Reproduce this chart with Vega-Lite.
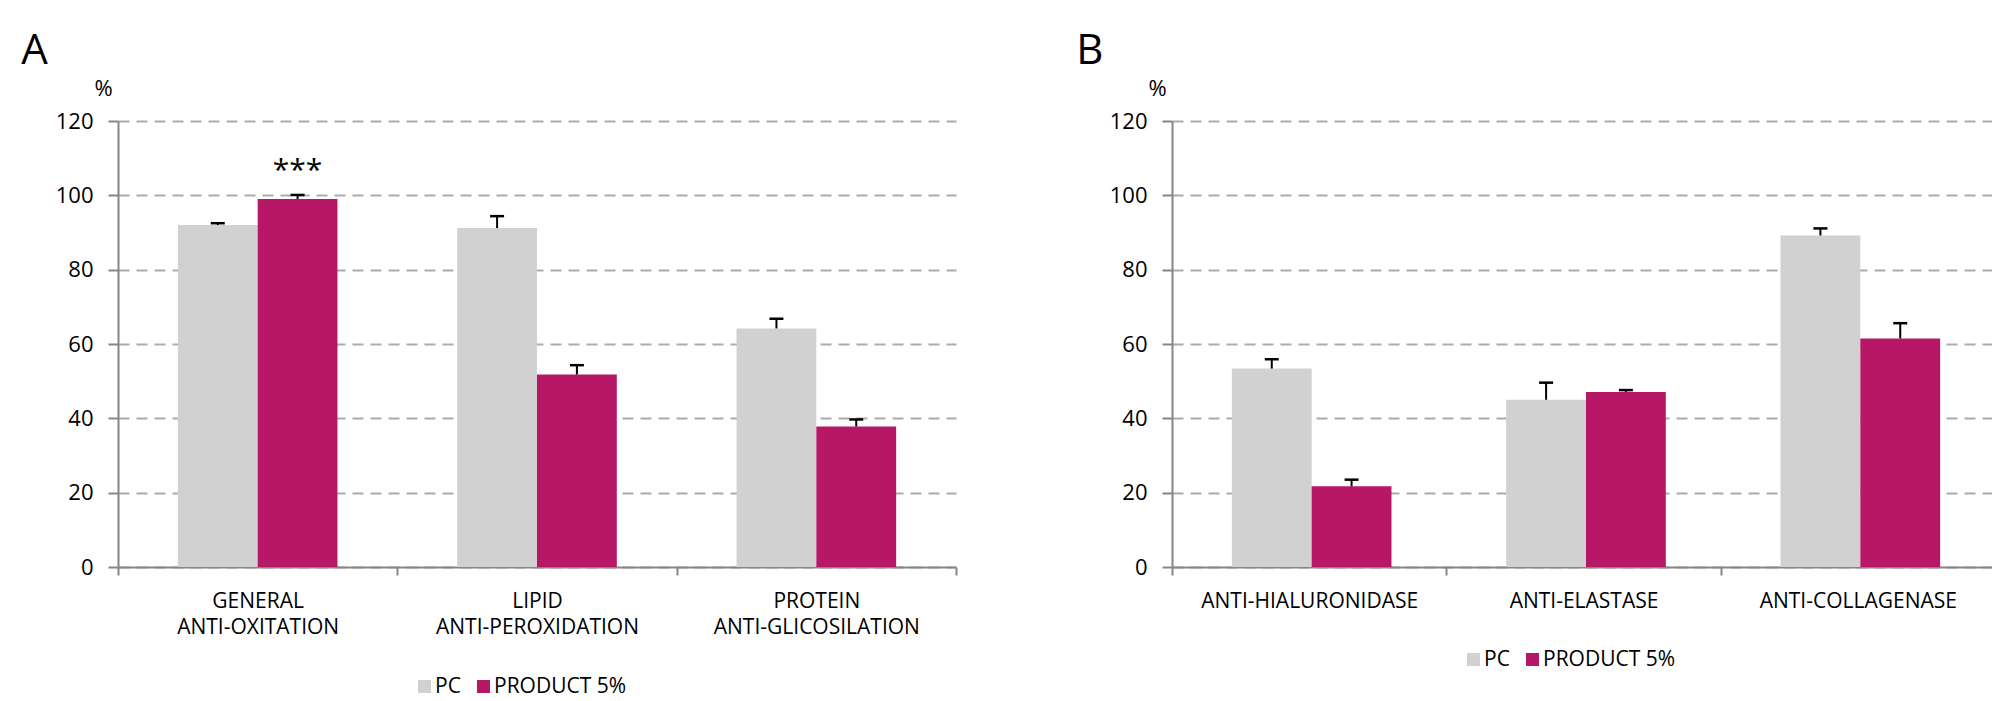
{
  "$schema": "https://vega.github.io/schema/vega-lite/v6.json",
  "background": "white",
  "padding": {"left": 21, "top": 30, "right": 0, "bottom": 0},
  "config": {
    "font": "Open Sans",
    "view": {"stroke": null},
    "concat": {"spacing": 119},
    "title": {"fontSize": 42, "fontWeight": "normal", "anchor": "start", "color": "black"},
    "legend": {
      "orient": "none", "direction": "horizontal", "title": null, "symbolType": "square",
      "symbolSize": 169, "labelFontSize": 21, "labelColor": "black", "columnPadding": 12,
      "labelOffset": 0, "symbolStrokeWidth": 0, "symbolOpacity": 1, "labelLimit": 0, "gridAlign": "none"
    }
  },
  "datasets": {
    "a": [
      {"cat": "GENERAL|ANTI-OXITATION", "grp": "PC", "value": 92.0, "upper": 92.5},
      {"cat": "GENERAL|ANTI-OXITATION", "grp": "PRODUCT 5%", "value": 99.0, "upper": 100.1, "sig": "***", "sigy": 106.5},
      {"cat": "LIPID|ANTI-PEROXIDATION", "grp": "PC", "value": 91.2, "upper": 94.4},
      {"cat": "LIPID|ANTI-PEROXIDATION", "grp": "PRODUCT 5%", "value": 51.8, "upper": 54.3},
      {"cat": "PROTEIN|ANTI-GLICOSILATION", "grp": "PC", "value": 64.2, "upper": 66.8},
      {"cat": "PROTEIN|ANTI-GLICOSILATION", "grp": "PRODUCT 5%", "value": 37.8, "upper": 39.7}
    ],
    "b": [
      {"cat": "ANTI-HIALURONIDASE", "grp": "PC", "value": 53.4, "upper": 55.9},
      {"cat": "ANTI-HIALURONIDASE", "grp": "PRODUCT 5%", "value": 21.7, "upper": 23.5},
      {"cat": "ANTI-ELASTASE", "grp": "PC", "value": 45.0, "upper": 49.6},
      {"cat": "ANTI-ELASTASE", "grp": "PRODUCT 5%", "value": 47.1, "upper": 47.6},
      {"cat": "ANTI-COLLAGENASE", "grp": "PC", "value": 89.2, "upper": 91.1},
      {"cat": "ANTI-COLLAGENASE", "grp": "PRODUCT 5%", "value": 61.5, "upper": 65.6}
    ]
  },
  "resolve": {"scale": {"color": "independent"}, "legend": {"color": "independent"}},
  "hconcat": [
    {
      "width": 838, "height": 446,
      "title": {"text": "A", "dx": -34},
      "data": {"name": "a"},
      "encoding": {
        "x": {"field": "cat", "type": "nominal", "sort": null, "scale": {"paddingInner": 0, "paddingOuter": 0},
          "axis": {"title": null, "labelAngle": 0, "labelExpr": "split(datum.label, '|')", "labelFontSize": 21, "labelLineHeight": 26, "labelColor": "black", "labelLimit": 0,
            "domainColor": "#868686", "domainWidth": 2, "tickColor": "#868686", "tickWidth": 2, "tickSize": 8, "tickBand": "extent", "labelPadding": 15, "grid": false, "labelBaseline": "top"}},
        "xOffset": {"field": "grp", "type": "nominal", "sort": ["PC", "PRODUCT 5%"], "scale": {"paddingInner": 0, "paddingOuter": 0.75}}
      },
      "layer": [
        {
          "mark": {"type": "bar"},
          "encoding": {
            "y": {"field": "value", "type": "quantitative", "scale": {"domain": [0, 120]}, "title": "%",
              "axis": {"values": [0, 20, 40, 60, 80, 100, 120], "grid": true, "gridDash": [11, 7], "gridColor": "#ABABAB",
                "gridWidth": 2, "domainColor": "#868686", "domainWidth": 2, "tickColor": "#868686", "tickWidth": 2,
                "tickSize": 10, "labelFontSize": 22, "labelColor": "black", "labelPadding": 15,
                "titleAngle": 0, "titleX": -15, "titleY": -33, "titleFontSize": 22, "titleFontWeight": "normal",
                "titleAlign": "center", "titleBaseline": "middle", "titleColor": "black"}},
            "color": {"field": "grp", "type": "nominal", "scale": {"domain": ["PC", "PRODUCT 5%"], "range": ["#D0D1D0", "#B71767"]}, "legend": {"legendX": 296, "legendY": 555}}
          }
        },
        {
          "mark": {"type": "rule", "color": "black", "strokeWidth": 2},
          "encoding": {"y": {"field": "value", "type": "quantitative", "title": "%"}, "y2": {"field": "upper"}}
        },
        {
          "mark": {"type": "tick", "color": "black", "thickness": 2.5, "size": 14, "opacity": 1},
          "encoding": {"y": {"field": "upper", "type": "quantitative", "title": "%"}}
        },
        {
          "transform": [{"filter": "isValid(datum.sig)"}],
          "mark": {"type": "text", "fontSize": 30, "baseline": "middle", "color": "black"},
          "encoding": {"y": {"field": "sigy", "type": "quantitative", "title": "%"}, "text": {"field": "sig"}}
        }
      ]
    },
    {
      "width": 823, "height": 446,
      "title": {"text": "B", "dx": -33},
      "data": {"name": "b"},
      "encoding": {
        "x": {"field": "cat", "type": "nominal", "sort": null, "scale": {"paddingInner": 0, "paddingOuter": 0},
          "axis": {"title": null, "labelAngle": 0, "labelFontSize": 21, "labelColor": "black", "labelLimit": 0,
            "domainColor": "#868686", "domainWidth": 2, "tickColor": "#868686", "tickWidth": 2, "tickSize": 8, "tickBand": "extent", "labelPadding": 15, "grid": false, "labelBaseline": "top"}},
        "xOffset": {"field": "grp", "type": "nominal", "sort": ["PC", "PRODUCT 5%"], "scale": {"paddingInner": 0, "paddingOuter": 0.75}}
      },
      "layer": [
        {
          "mark": {"type": "bar"},
          "encoding": {
            "y": {"field": "value", "type": "quantitative", "scale": {"domain": [0, 120]}, "title": "%",
              "axis": {"values": [0, 20, 40, 60, 80, 100, 120], "grid": true, "gridDash": [11, 7], "gridColor": "#ABABAB",
                "gridWidth": 2, "domainColor": "#868686", "domainWidth": 2, "tickColor": "#868686", "tickWidth": 2,
                "tickSize": 10, "labelFontSize": 22, "labelColor": "black", "labelPadding": 15,
                "titleAngle": 0, "titleX": -15, "titleY": -33, "titleFontSize": 22, "titleFontWeight": "normal",
                "titleAlign": "center", "titleBaseline": "middle", "titleColor": "black"}},
            "color": {"field": "grp", "type": "nominal", "scale": {"domain": ["PC", "PRODUCT 5%"], "range": ["#D0D1D0", "#B71767"]}, "legend": {"legendX": 291, "legendY": 528}}
          }
        },
        {
          "mark": {"type": "rule", "color": "black", "strokeWidth": 2},
          "encoding": {"y": {"field": "value", "type": "quantitative", "title": "%"}, "y2": {"field": "upper"}}
        },
        {
          "mark": {"type": "tick", "color": "black", "thickness": 2.5, "size": 14, "opacity": 1},
          "encoding": {"y": {"field": "upper", "type": "quantitative", "title": "%"}}
        }
      ]
    }
  ]
}
